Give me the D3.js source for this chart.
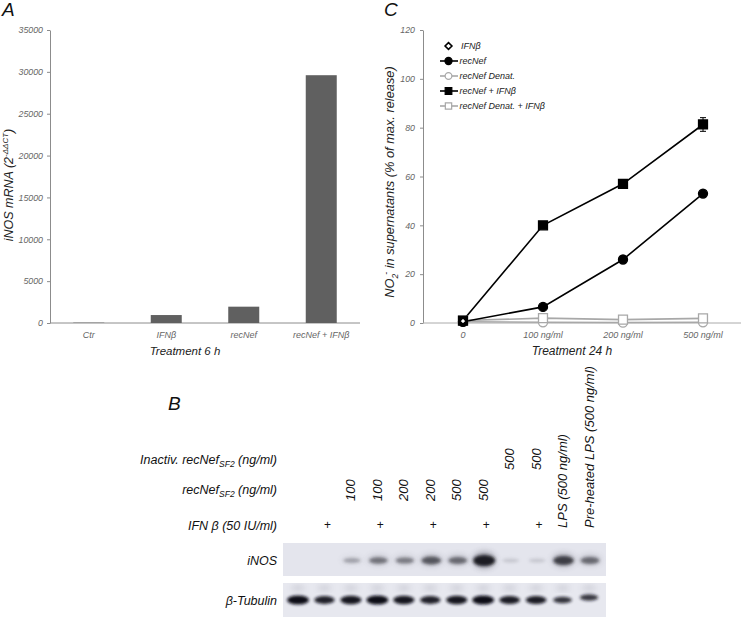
<!DOCTYPE html>
<html><head><meta charset="utf-8">
<script src="https://cdn.jsdelivr.net/npm/d3@7"></script>
<style>body{margin:0;background:#fff} svg{display:block;font-family:"Liberation Sans",Arial,sans-serif}</style>
</head><body><svg id="c" width="744" height="617"></svg>
<script>
// ---------- Panel A data ----------
const mrnaCategories = ["Ctr", "IFNβ", "recNef", "recNef + IFNβ"];
const mrnaValues = [40, 950, 1950, 29600];
const mrnaTicks = [0, 5000, 10000, 15000, 20000, 25000, 30000, 35000];

// ---------- Panel C data ----------
const doseLabels = ["0", "100 ng/ml", "200 ng/ml", "500 ng/ml"];
const no2IFN = [0.8];
const no2RecNef = [0.5, 6.6, 26, 53];
const no2RecNefDenat = [0.5, 0.3, 0.2, 0.3];
const no2RecNefIFN = [1.0, 40, 57, 81.3];
const no2RecNefDenatIFN = [1.0, 2.0, 1.4, 1.9];
const no2RecNefIFNErr = [0, 0.6, 0.8, 2.8];
const no2Ticks = [0, 20, 40, 60, 80, 100, 120];
const legendNames = ["IFNβ", "recNef", "recNef Denat.", "recNef + IFNβ", "recNef Denat. + IFNβ"];

// ---------- Panel B data ----------
const lanes = [1,2,3,4,5,6,7,8,9,10,11,12];
const inactLabels = ["", "", "", "", "", "", "", "", "500", "500", "", ""];
const recNefLabels = ["", "", "100", "100", "200", "200", "500", "500", "", "", "", ""];
const ifnLabels = ["", "+", "", "+", "", "+", "", "+", "", "+", "", ""];
const lpsLabels = ["", "", "", "", "", "", "", "", "", "", "LPS (500 ng/ml)", "Pre-heated LPS (500 ng/ml)"];
const inosIntensity = [0, 0, 0.22, 0.45, 0.4, 0.6, 0.5, 1.0, 0.05, 0.05, 0.75, 0.5];
const tubulinIntensity = [1.0, 0.8, 0.9, 1.0, 0.9, 0.8, 0.9, 1.0, 0.85, 0.85, 0.6, 0.55];

const svg = d3.select("#c");
const tickColor = "#666", axisColor = "#8c8c8c";

// ================= Panel A =================
(function(){
  const x = d3.scaleBand().domain(mrnaCategories).range([50, 360]).paddingInner(0.6).paddingOuter(0.3);
  const y = d3.scaleLinear().domain([0, 35000]).range([323, 30]);
  const g = svg.append("g");
  const ax = g.append("g").attr("transform", "translate(50,0)")
    .call(d3.axisLeft(y).tickValues(mrnaTicks).tickFormat(d3.format("d")).tickSize(3).tickSizeOuter(0).tickPadding(4));
  ax.select(".domain").attr("stroke", axisColor);
  ax.selectAll(".tick line").attr("stroke", axisColor);
  ax.selectAll(".tick text").attr("fill", tickColor).attr("font-size", 8.8).attr("font-style", "italic")
    .attr("font-family", "Liberation Sans, Arial, sans-serif");
  g.append("line").attr("x1", 50).attr("x2", 360).attr("y1", y(0)).attr("y2", y(0)).attr("stroke", axisColor);
  g.selectAll("rect.bar").data(mrnaValues).join("rect").attr("class", "bar")
    .attr("x", (d, i) => x(mrnaCategories[i])).attr("width", x.bandwidth())
    .attr("y", d => y(d)).attr("height", d => y(0) - y(d)).attr("fill", "#606060");
  g.selectAll("text.cat").data(mrnaCategories).join("text").attr("class", "cat")
    .attr("x", d => x(d) + x.bandwidth()/2).attr("y", 338).attr("text-anchor", "middle")
    .attr("font-size", 9).attr("font-style", "italic").attr("fill", tickColor).text(d => d);
  g.append("text").attr("x", 185).attr("y", 355).attr("text-anchor", "middle")
    .attr("font-size", 11.5).attr("font-style", "italic").attr("fill", "#222").text("Treatment 6 h");
  const t = g.append("text").attr("transform", "translate(13,185) rotate(-90)").attr("text-anchor", "middle")
    .attr("font-size", 12.5).attr("font-style", "italic").attr("fill", "#222");
  t.append("tspan").text("iNOS mRNA (2");
  t.append("tspan").attr("dy", -5).attr("font-size", 8).text("-ΔΔCT");
  t.append("tspan").attr("dy", 5).text(")");
  svg.append("text").attr("x", 2).attr("y", 16).attr("font-size", 19).attr("font-style", "italic").attr("fill", "#111").text("A");
})();

// ================= Panel C =================
(function(){
  const x = d3.scalePoint().domain(doseLabels).range([423, 743]).padding(0.5);
  const y = d3.scaleLinear().domain([0, 120]).range([323, 30]);
  const g = svg.append("g");
  const ax = g.append("g").attr("transform", "translate(423,0)")
    .call(d3.axisLeft(y).tickValues(no2Ticks).tickFormat(d3.format("d")).tickSize(3).tickSizeOuter(0).tickPadding(5));
  ax.select(".domain").attr("stroke", axisColor);
  ax.selectAll(".tick line").attr("stroke", axisColor);
  ax.selectAll(".tick text").attr("fill", tickColor).attr("font-size", 8.8).attr("font-style", "italic")
    .attr("font-family", "Liberation Sans, Arial, sans-serif");
  g.append("line").attr("x1", 423).attr("x2", 741).attr("y1", y(0)).attr("y2", y(0)).attr("stroke", "#aaa");
  g.selectAll("text.cat").data(doseLabels).join("text").attr("class", "cat")
    .attr("x", d => x(d)).attr("y", 338).attr("text-anchor", "middle")
    .attr("font-size", 9).attr("font-style", "italic").attr("fill", tickColor).text(d => d);
  g.append("text").attr("x", 572).attr("y", 355).attr("text-anchor", "middle")
    .attr("font-size", 12).attr("font-style", "italic").attr("fill", "#222").text("Treatment 24 h");
  const t = g.append("text").attr("transform", "translate(394,182) rotate(-90)").attr("text-anchor", "middle")
    .attr("font-size", 12.8).attr("font-style", "italic").attr("fill", "#222");
  t.append("tspan").text("NO");
  t.append("tspan").attr("dy", 3.5).attr("font-size", 8.5).text("2");
  t.append("tspan").attr("dy", -9).attr("dx", -1).attr("font-size", 8.5).text("-");
  t.append("tspan").attr("dy", 5.5).text(" in supernatants (% of max. release)");
  svg.append("text").attr("x", 384).attr("y", 16).attr("font-size", 19).attr("font-style", "italic").attr("fill", "#111").text("C");

  const line = d3.line().x((d, i) => x(doseLabels[i])).y(d => y(d));
  const series = [
    {vals: no2RecNefDenat, color: "#a8a8a8", shape: "circle", fill: "#fff"},
    {vals: no2RecNefDenatIFN, color: "#a8a8a8", shape: "square", fill: "#fff"},
    {vals: no2RecNef, color: "#000", shape: "circle", fill: "#000"},
    {vals: no2RecNefIFN, color: "#000", shape: "square", fill: "#000"}
  ];
  series.forEach(s => {
    g.append("path").datum(s.vals).attr("d", line).attr("fill", "none").attr("stroke", s.color).attr("stroke-width", 1.6);
  });
  g.selectAll("g.err").data(no2RecNefIFNErr).join("g").attr("class", "err").each(function(e, i){
    if (!e) return;
    const cx = x(doseLabels[i]), v = no2RecNefIFN[i];
    const s = d3.select(this);
    s.append("line").attr("x1", cx).attr("x2", cx).attr("y1", y(v + e)).attr("y2", y(v - e)).attr("stroke", "#000");
    [v + e, v - e].forEach(b => s.append("line").attr("x1", cx - 3).attr("x2", cx + 3).attr("y1", y(b)).attr("y2", y(b)).attr("stroke", "#000"));
  });
  series.forEach(s => {
    const sym = d3.symbol().type(s.shape === "circle" ? d3.symbolCircle : d3.symbolSquare).size(s.shape === "circle" ? 64 : 80);
    g.selectAll(null).data(s.vals).join("path").attr("d", sym)
      .attr("transform", (d, i) => `translate(${x(doseLabels[i])},${y(d)})`)
      .attr("fill", s.fill).attr("stroke", s.color).attr("stroke-width", 1.3);
  });
  g.selectAll(null).data(no2IFN).join("path").attr("d", d3.symbol().type(d3.symbolDiamond2).size(30))
    .attr("transform", (d, i) => `translate(${x(doseLabels[i])},${y(d)})`)
    .attr("fill", "#fff").attr("stroke", "#000").attr("stroke-width", 1.8);

  const legendStyle = [
    {line: null, shape: d3.symbolDiamond2, fill: "#fff", color: "#000", size: 30},
    {line: "#000", shape: d3.symbolCircle, fill: "#000", color: "#000", size: 40},
    {line: "#a8a8a8", shape: d3.symbolCircle, fill: "#fff", color: "#a8a8a8", size: 36},
    {line: "#000", shape: d3.symbolSquare, fill: "#000", color: "#000", size: 44},
    {line: "#a8a8a8", shape: d3.symbolSquare, fill: "#fff", color: "#a8a8a8", size: 40}
  ];
  const ly = d3.scalePoint().domain(legendNames).range([46, 106]);
  const lg = g.selectAll("g.leg").data(legendNames).join("g").attr("class", "leg")
    .attr("transform", d => `translate(0,${ly(d)})`);
  lg.each(function(d, i){
    const s = d3.select(this), st = legendStyle[i];
    if (st.line) s.append("line").attr("x1", 440).attr("x2", 458).attr("stroke", st.line).attr("stroke-width", 1.6);
    s.append("path").attr("d", d3.symbol().type(st.shape).size(st.size)).attr("transform", "translate(448.5,0)")
      .attr("fill", st.fill).attr("stroke", st.color).attr("stroke-width", i === 0 ? 1.6 : 1.2);
    s.append("text").attr("x", i === 0 ? 461 : 459.5).attr("y", 3.2).attr("font-size", 9).attr("font-style", "italic")
      .attr("fill", "#222").text(d);
  });
})();

// ================= Panel B (Western blot) =================
(function(){
  const x = d3.scalePoint().domain(lanes).range([298, 589]);
  const g = svg.append("g");
  svg.append("text").attr("x", 168).attr("y", 410).attr("font-size", 19).attr("font-style", "italic").attr("fill", "#111").text("B");
  const defs = svg.append("defs");
  defs.append("filter").attr("id", "blur").attr("x", "-50%").attr("y", "-100%").attr("width", "200%").attr("height", "300%")
    .append("feGaussianBlur").attr("stdDeviation", 1.6);
  defs.append("filter").attr("id", "blur2").attr("x", "-50%").attr("y", "-100%").attr("width", "200%").attr("height", "300%")
    .append("feGaussianBlur").attr("stdDeviation", 3);

  const rowLabel = (txt, yy, sub, tail) => {
    const t = g.append("text").attr("x", 277).attr("y", yy).attr("text-anchor", "end")
      .attr("font-size", 12.5).attr("font-style", "italic").attr("fill", "#111");
    t.append("tspan").text(txt);
    if (sub) { t.append("tspan").attr("dy", 3).attr("font-size", 8.5).text(sub); t.append("tspan").attr("dy", -3).text(tail); }
  };
  rowLabel("Inactiv. recNef", 464, "SF2", " (ng/ml)");
  rowLabel("recNef", 494, "SF2", " (ng/ml)");
  rowLabel("IFN β (50 IU/ml)", 530);
  rowLabel("iNOS", 565);
  rowLabel("β-Tubulin", 605);

  const vlabel = (arr, y0) => g.selectAll(null).data(arr.map((d, i) => ({d, i})).filter(o => o.d)).join("text")
    .attr("transform", o => `translate(${x(lanes[o.i]) + 4.5},${y0}) rotate(-90)`)
    .attr("font-size", 13).attr("font-style", "italic").attr("fill", "#111").text(o => o.d);
  vlabel(inactLabels, 470);
  vlabel(recNefLabels, 501);
  vlabel(lpsLabels, 528);
  g.selectAll(null).data(ifnLabels.map((d, i) => ({d, i})).filter(o => o.d)).join("text")
    .attr("x", o => x(lanes[o.i]) + 3).attr("y", 529).attr("text-anchor", "middle")
    .attr("font-size", 12).attr("fill", "#111").text(o => o.d);

  g.append("rect").attr("x", 283).attr("y", 543).attr("width", 323).attr("height", 33).attr("fill", "#e4e5ed");
  g.append("rect").attr("x", 283).attr("y", 583).attr("width", 323).attr("height", 34).attr("fill", "#e7e8ef");

  const ib = g.append("g");
  ib.selectAll(null).data(inosIntensity).join("ellipse").attr("filter", "url(#blur2)")
    .attr("cx", (d, i) => x(lanes[i]) + 1).attr("cy", 560).attr("rx", 11).attr("ry", d => 2 + 6 * d)
    .attr("fill", "#3a3a4a").attr("opacity", d => 0.45 * d);
  ib.selectAll(null).data(inosIntensity).join("ellipse").attr("filter", "url(#blur)")
    .attr("cx", (d, i) => x(lanes[i]) + 1).attr("cy", 560.5).attr("rx", d => 8 + 3 * d).attr("ry", d => 1.5 + 4 * d)
    .attr("fill", "#14141e").attr("opacity", d => d > 0 ? Math.min(1, 0.1 + 0.85 * d) : 0);

  const tb = g.append("g");
  tb.selectAll(null).data(tubulinIntensity).join("ellipse").attr("filter", "url(#blur2)")
    .attr("cx", (d, i) => x(lanes[i])).attr("cy", 588).attr("rx", 7).attr("ry", 1.5)
    .attr("fill", "#555566").attr("opacity", 0.35);
  tb.selectAll(null).data(tubulinIntensity).join("ellipse").attr("filter", "url(#blur)")
    .attr("cx", (d, i) => x(lanes[i])).attr("cy", (d, i) => 600 - (i === 11 ? 2.5 : 0))
    .attr("rx", d => 7 + 4 * d).attr("ry", d => 1.5 + 3 * d)
    .attr("fill", "#111119").attr("opacity", d => 0.55 + 0.45 * d);
})();
</script></body></html>
